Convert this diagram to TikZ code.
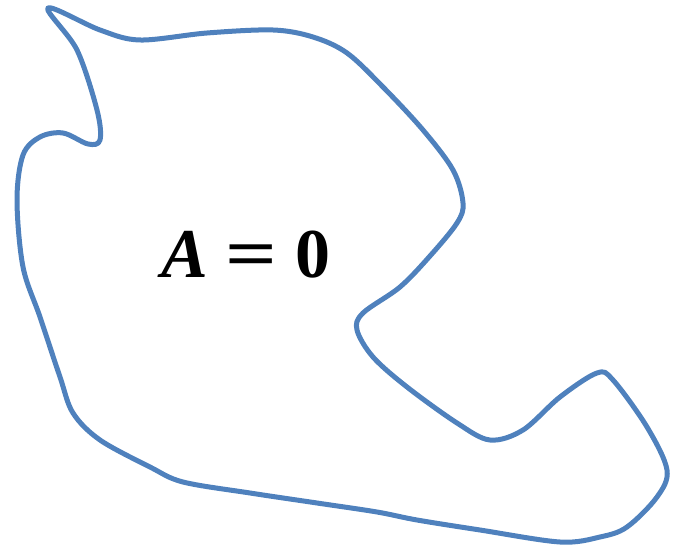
\documentclass[tikz,border=0pt]{standalone}
\usepackage{fontspec}
\usepackage{graphicx}
\setmainfont{Liberation Serif}
\usetikzlibrary{positioning}
\definecolor{blobblue}{RGB}{79,129,189}

\begin{document}
\begin{tikzpicture}[
    x=1pt, y=-1pt,
    boundary/.style={draw=blobblue, line width=5pt, line join=round},
    eqlabel/.style={font=\fontsize{70}{76}\selectfont\bfseries, inner sep=0pt}
  ]
  % --- Frame ---
  \useasboundingbox (0,0) rectangle (675,545);

  % --- Region boundary ---
  \draw[boundary] plot[smooth cycle, tension=0.55] coordinates {
    (48,8) (100,30) (140,40) (207,33) (273,30) (313,37) (347,53) (383,87)
    (423,130) (453,170) (463,203) (457,223) (430,256) (400,287) (363,313)
    (357,330) (373,357) (407,387) (457,423) (490,440) (523,430) (560,397)
    (597,373) (613,380) (647,427) (667,470) (657,497) (627,527) (600,537)
    (560,542) (480,530) (417,520) (377,512) (317,503) (250,493) (183,482)
    (150,467) (100,440) (73,413) (60,377) (40,317) (23,267) (17,200)
    (23,155) (40,137) (63,133) (88,144) (100,140) (97,110) (77,50)
  };

  % --- Label ---
  \node[eqlabel] (eq) at (246,255) {\textit{A}\hspace{0.25em}\scalebox{1.3}[1]{=}\hspace{0.25em}0};

\end{tikzpicture}
\end{document}
